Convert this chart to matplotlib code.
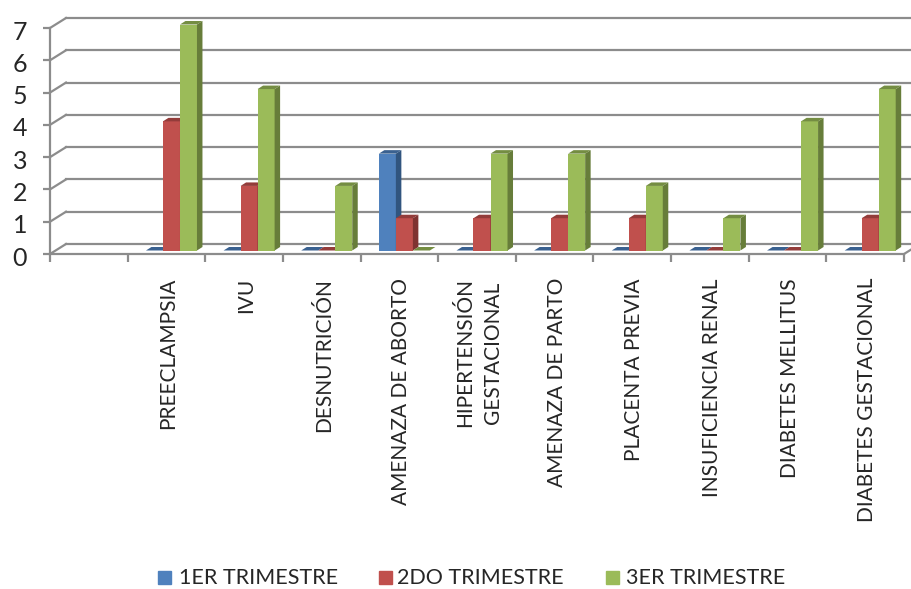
import matplotlib
matplotlib.use('Agg')
import matplotlib.pyplot as plt
from matplotlib.patches import Polygon, Rectangle
from matplotlib.transforms import ScaledTranslation
import numpy as np

plt.rcParams['font.family'] = ['Lato', 'DejaVu Sans']

categorias = ['', 'PREECLAMPSIA', 'IVU', 'DESNUTRICIÓN', 'AMENAZA DE ABORTO',
              'HIPERTENSIÓN\nGESTACIONAL', 'AMENAZA DE PARTO', 'PLACENTA PREVIA',
              'INSUFICIENCIA RENAL', 'DIABETES MELLITUS', 'DIABETES GESTACIONAL']
trim1 = [None, 0, 0, 0, 3, 0, 0, 0, 0, 0, 0]
trim2 = [None, 4, 2, 0, 1, 1, 1, 1, 0, 0, 1]
trim3 = [None, 7, 5, 2, 0, 3, 3, 2, 1, 4, 5]
nombres = ['1ER TRIMESTRE', '2DO TRIMESTRE', '3ER TRIMESTRE']
yticks = [0, 1, 2, 3, 4, 5, 6, 7]

colores = ['#4f81bd', '#c0504d', '#9bbb59']
laterales = ['#31557f', '#7f3331', '#677d3a']
techos = ['#3a6190', '#933c3a', '#748d42']
GRIS = '#8c8c8c'
TEXTO = '#262626'

W, H = 911, 589
DPI = 100
fig = plt.figure(figsize=(W / DPI, H / DPI), dpi=DPI)
# front plane of the box: x 50..904 px, y 254..28 px
ax = fig.add_axes([50 / W, 1 - 254 / H, 854 / W, 226 / H])
ax.set_xlim(0, 11)
ax.set_ylim(0, 7)
ax.patch.set_visible(False)


def px(dx, dy):
    # shift in pixels, y upwards
    return ax.transData + ScaledTranslation(dx / DPI, dy / DPI, fig.dpi_scale_trans)


# back wall gridlines and the side diagonals
fondo = px(16, 10)
for v in yticks:
    ax.plot([0, 11], [v, v], color=GRIS, lw=1.6, transform=fondo, clip_on=False, zorder=1)
    x0, y0 = ax.transData.transform((0, v))
    fig.add_artist(plt.Line2D([x0, x0 + 16], [y0, y0 + 10], color=GRIS, lw=1.6, transform=None, zorder=1))

# floor edge on the right side
x0, y0 = ax.transData.transform((11, 0))
fig.add_artist(plt.Line2D([x0, x0 + 16], [y0, y0 + 10], color=GRIS, lw=1.6, transform=None, zorder=1))

for side in ['top', 'right']:
    ax.spines[side].set_visible(False)
for side in ['left', 'bottom']:
    ax.spines[side].set_color(GRIS)
    ax.spines[side].set_linewidth(1.6)

# bars stand in the middle of the box depth
ancho = 17 / 77.6
plano = px(5, 3.5)
dx, dy = 5.5, 3.5
series = [trim1, trim2, trim3]
for j, serie in enumerate(series):
    for i, v in enumerate(serie):
        if v is None:
            continue
        xc = i + 0.5 + (j - 1) * ancho
        z = 3 + 0.01 * i + 0.1 * j
        ax.bar(xc, v, ancho, color=colores[j], transform=plano, clip_on=False, zorder=z)
        (xa, ya) = plano.transform((xc - ancho / 2, v))
        (xb, yb) = plano.transform((xc + ancho / 2, 0))
        techo = Polygon([(xa, ya), (xb, ya), (xb + dx, ya + dy), (xa + dx, ya + dy)],
                        closed=True, color=techos[j], lw=0, transform=None, zorder=z)
        ax.add_patch(techo)
        techo.set_clip_on(False)
        if v > 0:
            lado = Polygon([(xb, yb), (xb + dx, yb + dy), (xb + dx, ya + dy), (xb, ya)],
                           closed=True, color=laterales[j], lw=0, transform=None, zorder=z)
            ax.add_patch(lado)
            lado.set_clip_on(False)

ax.set_yticks(yticks)
ax.set_xticks(np.arange(len(categorias) + 1))
ax.set_xticklabels([])
ax.tick_params(axis='both', color=GRIS, width=1.6, length=7.5 * 72 / DPI)
ax.tick_params(axis='y', labelsize=18, labelcolor=TEXTO, pad=11)
for etiqueta in ax.get_yticklabels():
    etiqueta.set_transform(etiqueta.get_transform() + ScaledTranslation(0, -2 / DPI, fig.dpi_scale_trans))

for i, nombre in enumerate(categorias):
    ax.annotate(nombre, xy=(i + 0.5, 0), xytext=(2, -24), textcoords='offset pixels',
                rotation=90, ha='center', va='top', fontsize=15, color=TEXTO,
                multialignment='center', linespacing=1.45, annotation_clip=False)

# legend row
xs_mark = [158, 379, 606]
xs_text = [179, 397, 626]
for x_m, x_t, c, n in zip(xs_mark, xs_text, colores, nombres):
    fig.add_artist(Rectangle((x_m / W, 1 - 584 / H), 13 / W, 13 / H, color=c, transform=fig.transFigure))
    fig.text(x_t / W, 1 - 578 / H, n, fontsize=15.5, color=TEXTO, va='center', ha='left')

fig.savefig('out.png', dpi=DPI)
